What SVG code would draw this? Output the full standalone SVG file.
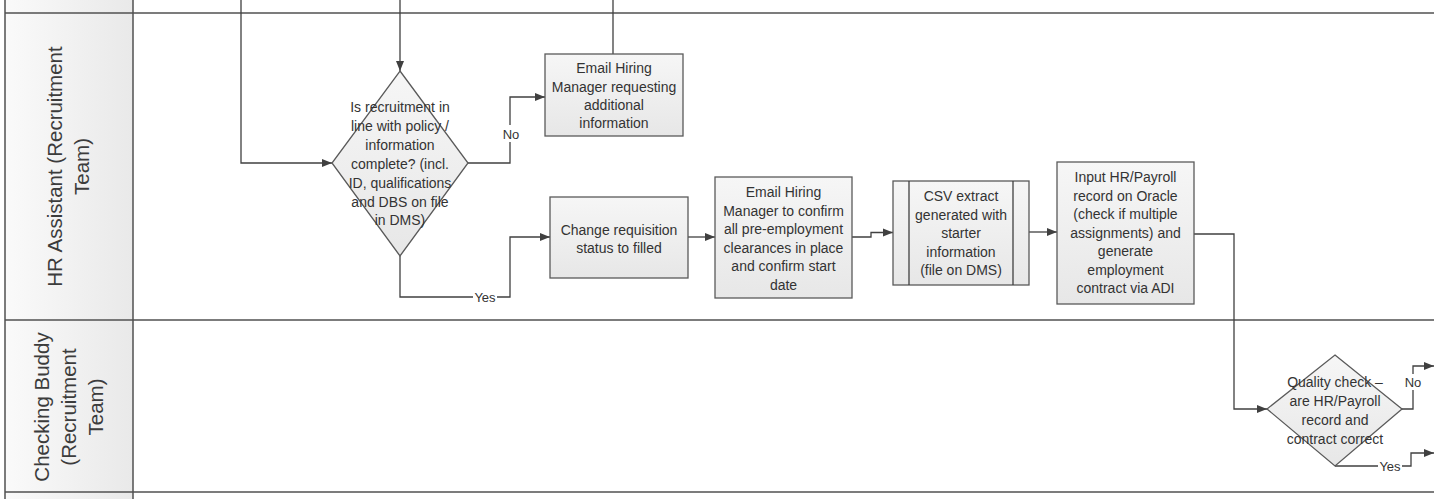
<svg xmlns="http://www.w3.org/2000/svg" width="1444" height="499" viewBox="0 0 1444 499">
<defs>
<linearGradient id="colg" x1="0" y1="0" x2="1" y2="0">
<stop offset="0" stop-color="#fafafa"/>
<stop offset="1" stop-color="#e9e9e9"/>
</linearGradient>
<linearGradient id="boxg" x1="0" y1="0" x2="0" y2="1">
<stop offset="0" stop-color="#f6f6f6"/>
<stop offset="1" stop-color="#e7e7e7"/>
</linearGradient>
<marker id="arr" viewBox="0 0 10 10" refX="10" refY="5" markerWidth="10" markerHeight="10" markerUnits="userSpaceOnUse" orient="auto">
<path d="M0,1 L10,5 L0,9 Z" fill="#404040"/>
</marker>
</defs>
<style>
.lane{stroke:#505050;stroke-width:1.5;fill:none}
.box{fill:url(#boxg);stroke:#5a5a5a;stroke-width:1.3}
.t{font-family:"Liberation Sans",Arial,sans-serif;font-size:14px;fill:#333;text-anchor:middle}
.lt{font-family:"Liberation Sans",Arial,sans-serif;font-size:20.5px;fill:#3c3c3c;text-anchor:middle}
.lbl{font-family:"Liberation Sans",Arial,sans-serif;font-size:13px;fill:#333;text-anchor:middle}
.c{fill:none;stroke:#404040;stroke-width:1.3}
.ca{fill:none;stroke:#404040;stroke-width:1.3;marker-end:url(#arr)}
</style>
<rect width="1444" height="499" fill="#ffffff"/>
<g id="lanes">
<rect x="5" y="0" width="128" height="499" fill="url(#colg)"/>
<line class="lane" x1="5" y1="0" x2="5" y2="499"/>
<line class="lane" x1="133" y1="0" x2="133" y2="499"/>
<line class="lane" x1="5" y1="13" x2="1434" y2="13"/>
<line class="lane" x1="5" y1="320" x2="1434" y2="320"/>
<line class="lane" x1="5" y1="492" x2="1434" y2="492"/>
</g>
<g id="lane-hr">
<text class="lt" transform="translate(62,166.5) rotate(-90)">HR Assistant (Recruitment</text>
<text class="lt" transform="translate(89,166.5) rotate(-90)">Team)</text>
</g>
<g id="lane-cb">
<text class="lt" transform="translate(49,407) rotate(-90)">Checking Buddy</text>
<text class="lt" transform="translate(76,407) rotate(-90)">(Recruitment</text>
<text class="lt" transform="translate(103,407) rotate(-90)">Team)</text>
</g>
<g id="connectors">
<path class="ca" d="M241 0 V163 H332"/>
<path class="ca" d="M400 0 V71"/>
<path class="c" d="M613 0 V54"/>
<path class="ca" d="M468 163 H510 V97 H545"/>
<path class="ca" d="M400 256 V297 H510 V237 H550"/>
<path class="ca" d="M688 237 H715"/>
<path class="ca" d="M852 237 H871 V232.5 H893"/>
<path class="ca" d="M1029 232 H1057"/>
<path class="ca" d="M1194 234 H1234 V409 H1267"/>
<path class="ca" d="M1402 409 H1413 V366 H1434"/>
<path class="ca" d="M1335 466 H1411 V453 H1434"/>
<rect x="502" y="125" width="18" height="17" fill="#fff"/>
<text class="lbl" x="511" y="138.5">No</text>
<rect x="473" y="290" width="24" height="14" fill="#fff"/>
<text class="lbl" x="485" y="301.5">Yes</text>
<rect x="1404" y="374" width="18" height="16" fill="#fff"/>
<text class="lbl" x="1413" y="386.5">No</text>
<rect x="1378" y="459" width="24" height="14" fill="#fff"/>
<text class="lbl" x="1390" y="470.5">Yes</text>
</g>
<g id="decision1">
<polygon class="box" points="400,71 468,163 400,256 332,163"/>
<text class="t" x="400" y="112">Is recruitment in</text>
<text class="t" x="400" y="131">line with policy /</text>
<text class="t" x="400" y="150">information</text>
<text class="t" x="400" y="169">complete? (incl.</text>
<text class="t" x="400" y="188">ID, qualifications</text>
<text class="t" x="400" y="207">and DBS on file</text>
<text class="t" x="400" y="225">in DMS)</text>
</g>
<g id="email-request">
<rect class="box" x="545" y="54" width="138" height="82"/>
<text class="t" x="614" y="73">Email Hiring</text>
<text class="t" x="614" y="91.5">Manager requesting</text>
<text class="t" x="614" y="110">additional</text>
<text class="t" x="614" y="128">information</text>
</g>
<g id="change-status">
<rect class="box" x="550" y="197" width="138" height="81"/>
<text class="t" x="619" y="235">Change requisition</text>
<text class="t" x="619" y="253">status to filled</text>
</g>
<g id="email-confirm">
<rect class="box" x="715" y="177" width="137" height="121"/>
<text class="t" x="783.5" y="197">Email Hiring</text>
<text class="t" x="783.5" y="215.5">Manager to confirm</text>
<text class="t" x="783.5" y="234">all pre-employment</text>
<text class="t" x="783.5" y="252.5">clearances in place</text>
<text class="t" x="783.5" y="271">and confirm start</text>
<text class="t" x="783.5" y="289.5">date</text>
</g>
<g id="csv-extract">
<rect class="box" x="893" y="181" width="136" height="104"/>
<line class="c" x1="909" y1="181" x2="909" y2="285"/>
<line class="c" x1="1013" y1="181" x2="1013" y2="285"/>
<text class="t" x="961" y="201">CSV extract</text>
<text class="t" x="961" y="219.5">generated with</text>
<text class="t" x="961" y="238">starter</text>
<text class="t" x="961" y="256.5">information</text>
<text class="t" x="961" y="275">(file on DMS)</text>
</g>
<g id="input-record">
<rect class="box" x="1057" y="162" width="137" height="142"/>
<text class="t" x="1125.5" y="182">Input HR/Payroll</text>
<text class="t" x="1125.5" y="200.5">record on Oracle</text>
<text class="t" x="1125.5" y="219">(check if multiple</text>
<text class="t" x="1125.5" y="237.5">assignments) and</text>
<text class="t" x="1125.5" y="256">generate</text>
<text class="t" x="1125.5" y="274.5">employment</text>
<text class="t" x="1125.5" y="293">contract via ADI</text>
</g>
<g id="decision2">
<polygon class="box" points="1335,355 1402,409 1335,466 1267,409"/>
<text class="t" x="1335" y="387">Quality check –</text>
<text class="t" x="1335" y="406">are HR/Payroll</text>
<text class="t" x="1335" y="425">record and</text>
<text class="t" x="1335" y="444">contract correct</text>
</g>
</svg>
